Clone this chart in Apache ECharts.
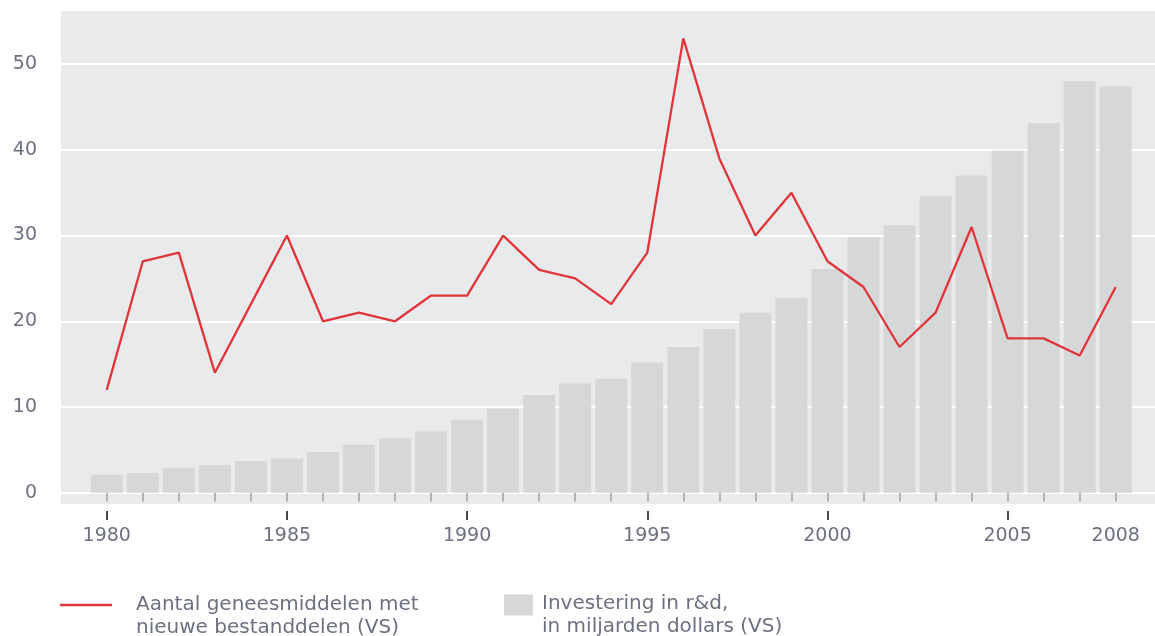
<!DOCTYPE html>
<html>
<head>
<meta charset="utf-8">
<script src="https://cdn.jsdelivr.net/npm/echarts@6/dist/echarts.min.js"></script>
<style>html,body{margin:0;padding:0;background:#fff}#c{width:1155px;height:636px}</style>
</head>
<body>
<div id="c"></div>
<script>
const years = [1980,1981,1982,1983,1984,1985,1986,1987,1988,1989,1990,1991,1992,1993,1994,1995,1996,1997,1998,1999,2000,2001,2002,2003,2004,2005,2006,2007,2008];
const newDrugs = [12,27,28,14,22,30,20,21,20,23,23,30,26,25,22,28,53,39,30,35,27,24,17,21,31,18,18,16,24];
const rdInvestment = [2.1,2.3,2.9,3.2,3.7,4.0,4.75,5.6,6.35,7.15,8.5,9.8,11.4,12.75,13.3,15.2,17.0,19.1,21.0,22.7,26.1,29.8,31.2,34.6,37.0,39.9,43.1,48.0,47.4];
const yTicks = [0,10,20,30,40,50];
const xLabelYears = [1980,1985,1990,1995,2000,2005,2008];
const majorTickYears = [1980,1985,1990,1995,2000,2005];
const seriesNames = ['Aantal geneesmiddelen met\nnieuwe bestanddelen (VS)', 'Investering in r&d,\nin miljarden dollars (VS)'];

const FONT = 'DejaVu Sans';
const TXT = '#6c7080';
const chart = echarts.init(document.getElementById('c'), null, {renderer:'canvas'});
const xMin = 1978.73, xMax = 2009.09;
chart.setOption({
  animation: false,
  grid: {left: 61, right: 0, top: 11, bottom: 132, show: true, backgroundColor: '#e9eaec', borderWidth: 0},
  xAxis: [
    {type: 'value', min: xMin, max: xMax, position: 'bottom', offset: 7,
     axisLine: {show: false}, splitLine: {show: false},
     axisTick: {show: true, length: 9, customValues: years, lineStyle: {color: '#b4b4b8', width: 2}},
     axisLabel: {show: false}},
    {type: 'value', min: xMin, max: xMax, position: 'bottom', offset: 7,
     axisLine: {show: false}, splitLine: {show: false},
     axisTick: {show: true, length: 9, customValues: majorTickYears, lineStyle: {color: '#4a4a4e', width: 2}},
     axisLabel: {show: true, customValues: xLabelYears, margin: 16, color: TXT, fontFamily: FONT, fontSize: 19,
       formatter: v => String(v)}}
  ],
  yAxis: {type: 'value', min: -1.32, max: 56.2,
    axisLine: {show: false},
    axisTick: {show: false, customValues: yTicks},
    axisLabel: {customValues: yTicks, margin: 24, color: TXT, fontFamily: FONT, fontSize: 19},
    splitLine: {show: true, lineStyle: {color: '#ffffff', width: 2}}},
  legend: [
    {data: [seriesNames[0]], left: 60, top: 593, padding: 0, itemWidth: 52, itemHeight: 24.5,
     icon: 'path://M0,0H52V2.5H0Z M0,24.49H52V24.5H0Z',
     itemStyle: {color: '#e0353a'},
     textStyle: {color: TXT, fontFamily: FONT, fontSize: 20, lineHeight: 23, padding: [0, 0, 0, 19]}},
    {data: [seriesNames[1]], left: 504, top: 592, padding: 0, itemWidth: 29, itemHeight: 41,
     icon: 'path://M0,0H29V21H0Z M0,40.99H29V41H0Z',
     textStyle: {color: TXT, fontFamily: FONT, fontSize: 20, lineHeight: 23, padding: [0, 0, 0, 4]}}
  ],
  series: [
    {name: seriesNames[1], type: 'bar', xAxisIndex: 0, barWidth: 32,
     itemStyle: {color: '#d6d7d9'},
     data: years.map((y, i) => [y, rdInvestment[i]]), z: 2},
    {name: seriesNames[0], type: 'line', xAxisIndex: 0, showSymbol: false, symbol: 'none',
     lineStyle: {color: '#e0353a', width: 2.3}, itemStyle: {color: '#e0353a'},
     data: years.map((y, i) => [y, newDrugs[i]]), z: 3}
  ]
});
</script>
</body>
</html>
